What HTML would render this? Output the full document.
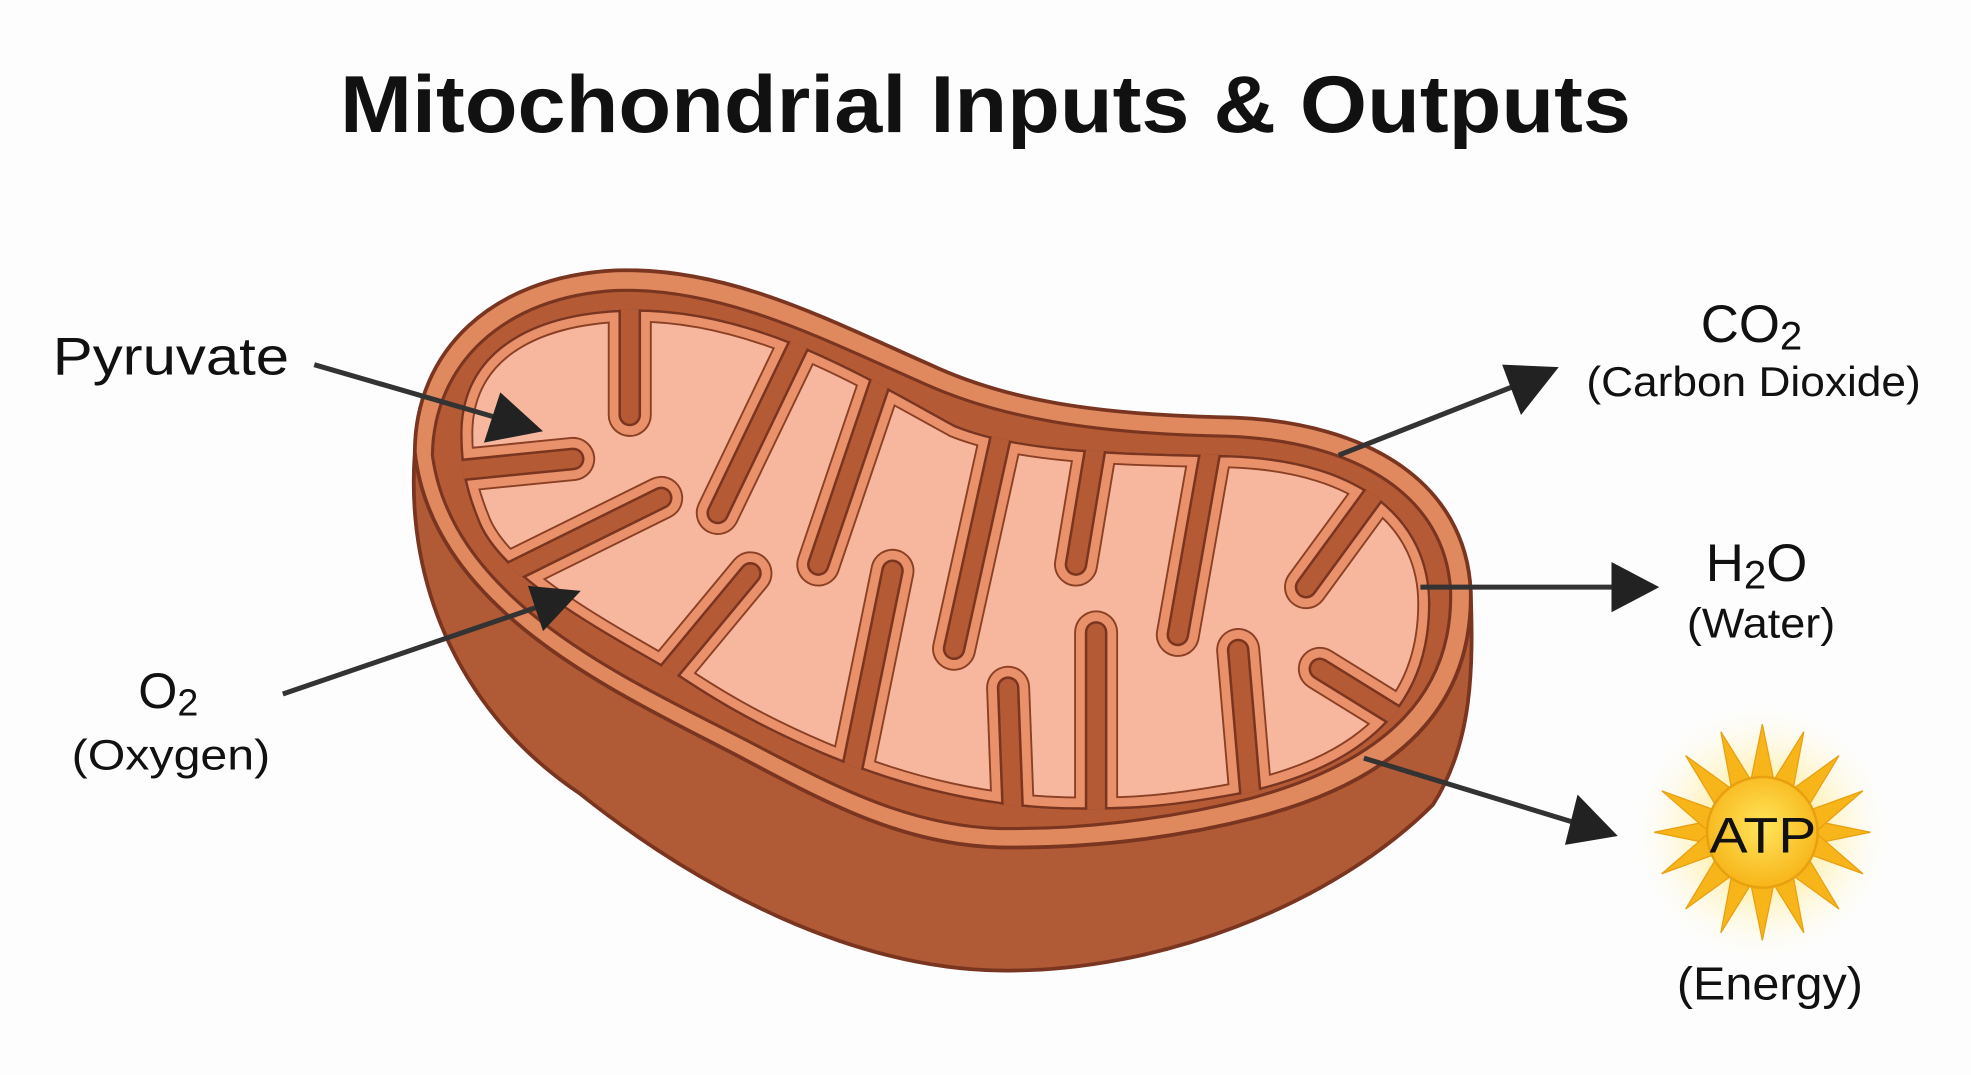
<!DOCTYPE html>
<html><head><meta charset="utf-8"><style>
html,body{margin:0;padding:0;background:#fdfdfd;}
svg{display:block;}
text{font-family:"Liberation Sans",sans-serif;fill:#111;}
</style></head><body>
<svg width="1971" height="1075" viewBox="0 0 1568 855" xmlns="http://www.w3.org/2000/svg" xmlns:xlink="http://www.w3.org/1999/xlink">
<defs>
<radialGradient id="glow" cx="50%" cy="50%" r="50%">
<stop offset="0" stop-color="#ffe680" stop-opacity="1"/>
<stop offset="0.5" stop-color="#fff0b0" stop-opacity="0.8"/>
<stop offset="1" stop-color="#fffbe8" stop-opacity="0"/>
</radialGradient>
<radialGradient id="sun" cx="50%" cy="45%" r="55%">
<stop offset="0" stop-color="#ffe55a"/>
<stop offset="1" stop-color="#f7b51a"/>
</radialGradient>
<path id="blob" d="M366,345 C366,282 418,248 500,246 C602,244 690,300 760,338 C810,358 880,360 980,362 C1088,366 1138,416 1138,480 C1138,563 1085,610 992,631 C930,643 900,644 872,644 C788,646 716,626 654,600 C598,576 566,556 536,536 C466,496 394,456 379,412 C370,390 366,370 366,345 Z"/>
<clipPath id="cb"><use xlink:href="#blob"/></clipPath>
<g id="fingers" fill="none" stroke-linecap="round">
<path d="M501,225 L501,330"/>
<path d="M335,377 L456,365"/>
<path d="M360,478 L526,396"/>
<path d="M635,275 L571,408"/>
<path d="M705,290 L651,449"/>
<path d="M800,330 L759,516"/>
<path d="M875,335 L856,449"/>
<path d="M967,335 L937,505"/>
<path d="M1110,370 L1039,467"/>
<path d="M1160,600 L1050,532"/>
<path d="M490,585 L597,456"/>
<path d="M668,660 L710,454"/>
<path d="M807,680 L802,547"/>
<path d="M872,680 L872,503"/>
<path d="M998,670 L985,517"/>
</g>
</defs>
<rect width="1568" height="855" fill="#fdfdfd"/>
<text x="784" y="105" text-anchor="middle" font-size="64" font-weight="bold" textLength="1027" lengthAdjust="spacingAndGlyphs">Mitochondrial Inputs &amp; Outputs</text>

<!-- side wall -->
<path d="M330,360 C322,470 370,570 461,631 C560,710 680,770 795,772 C920,774 1060,720 1140,640 C1172,590 1172,530 1170,470 Z" fill="#b05a36" stroke="#7a3520" stroke-width="3"/>
<!-- top face -->
<path d="M330,360 C330,280 390,220 490,215 C580,212 660,255 740,290 C800,318 870,330 980,332 C1090,336 1166,385 1170,470 C1172,560 1115,620 1000,650 C930,668 860,675 795,674 C720,672 660,640 594,605 C500,555 345,490 330,360 Z" fill="#e0895f" stroke="#7a3520" stroke-width="3"/>
<path d="M344,362 C345,290 400,236 490,231 C575,228 655,270 735,305 C795,332 868,345 978,347 C1080,351 1150,395 1154,470 C1156,550 1105,605 995,635 C928,652 858,660 795,659 C724,657 665,626 600,592 C508,544 360,482 344,362 Z" fill="#b45a35" stroke="#7a3520" stroke-width="2.5"/>

<!-- matrix with cristae -->
<use xlink:href="#blob" fill="#f7b79e"/>
<g clip-path="url(#cb)">
<use xlink:href="#blob" fill="none" stroke="#8a4025" stroke-width="21"/>
<use xlink:href="#fingers" stroke="#8a4025" stroke-width="35"/>
<use xlink:href="#blob" fill="none" stroke="#e8916a" stroke-width="18"/>
<use xlink:href="#fingers" stroke="#e8916a" stroke-width="32"/>
<use xlink:href="#blob" fill="none" stroke="#7a3520" stroke-width="4"/>
<use xlink:href="#fingers" stroke="#7a3520" stroke-width="18"/>
<use xlink:href="#fingers" stroke="#b45a35" stroke-width="14"/>
</g>

<!-- arrows -->
<g stroke="#333" stroke-width="4" fill="none">
<line x1="250" y1="290" x2="405" y2="335"/>
<line x1="225" y1="552" x2="430" y2="482"/>
<line x1="1065" y1="362" x2="1210" y2="305"/>
<line x1="1130" y1="467" x2="1285" y2="467"/>
<line x1="1085" y1="603" x2="1255" y2="655"/>
</g>
<g fill="#222">
<polygon points="432,343 398,312 385,352"/>
<polygon points="462,470 420,466 432,502"/>
<polygon points="1240,292 1195,290 1210,330"/>
<polygon points="1320,467 1282,447 1282,487"/>
<polygon points="1287,665 1255,632 1245,672"/>
</g>

<!-- labels -->
<text x="42" y="298" font-size="42" textLength="188" lengthAdjust="spacingAndGlyphs">Pyruvate</text>
<text x="110" y="563" font-size="40">O<tspan font-size="30" dy="6">2</tspan></text>
<text x="57" y="612" font-size="34" textLength="158" lengthAdjust="spacingAndGlyphs">(Oxygen)</text>
<text x="1353" y="272" font-size="42">CO<tspan font-size="32" dy="6">2</tspan></text>
<text x="1262" y="315" font-size="33" textLength="266" lengthAdjust="spacingAndGlyphs">(Carbon Dioxide)</text>
<text x="1357" y="462" font-size="42">H<tspan font-size="32" dy="6">2</tspan><tspan dy="-6">O</tspan></text>
<text x="1342" y="507" font-size="33" textLength="118" lengthAdjust="spacingAndGlyphs">(Water)</text>

<!-- sun -->
<circle cx="1402" cy="662" r="100" fill="url(#glow)"/>
<g fill="#f7b51a" stroke="#e8a010" stroke-width="1">
<polygon points="1402,576 1412,625 1392,625"/>
<polygon points="1402,748 1412,699 1392,699"/>
<polygon points="1316,662 1365,652 1365,672"/>
<polygon points="1488,662 1439,652 1439,672"/>
<polygon points="1341,601 1381,630 1367,644"/>
<polygon points="1463,601 1437,644 1423,630"/>
<polygon points="1341,723 1367,680 1381,694"/>
<polygon points="1463,723 1423,694 1437,680"/>
<polygon points="1369,582 1395,624 1378,630"/>
<polygon points="1435,582 1426,630 1409,624"/>
<polygon points="1369,742 1378,694 1395,700"/>
<polygon points="1435,742 1409,700 1426,694"/>
<polygon points="1322,629 1366,645 1360,662"/>
<polygon points="1322,695 1360,662 1366,679"/>
<polygon points="1482,629 1444,662 1438,645"/>
<polygon points="1482,695 1438,679 1444,662"/>
</g>
<circle cx="1402" cy="662" r="44" fill="url(#sun)" stroke="#e8a010" stroke-width="2"/>
<text x="1360" y="678" font-size="40" textLength="85" lengthAdjust="spacingAndGlyphs">ATP</text>
<text x="1334" y="795" font-size="37" textLength="148" lengthAdjust="spacingAndGlyphs">(Energy)</text>
</svg>
</body></html>
